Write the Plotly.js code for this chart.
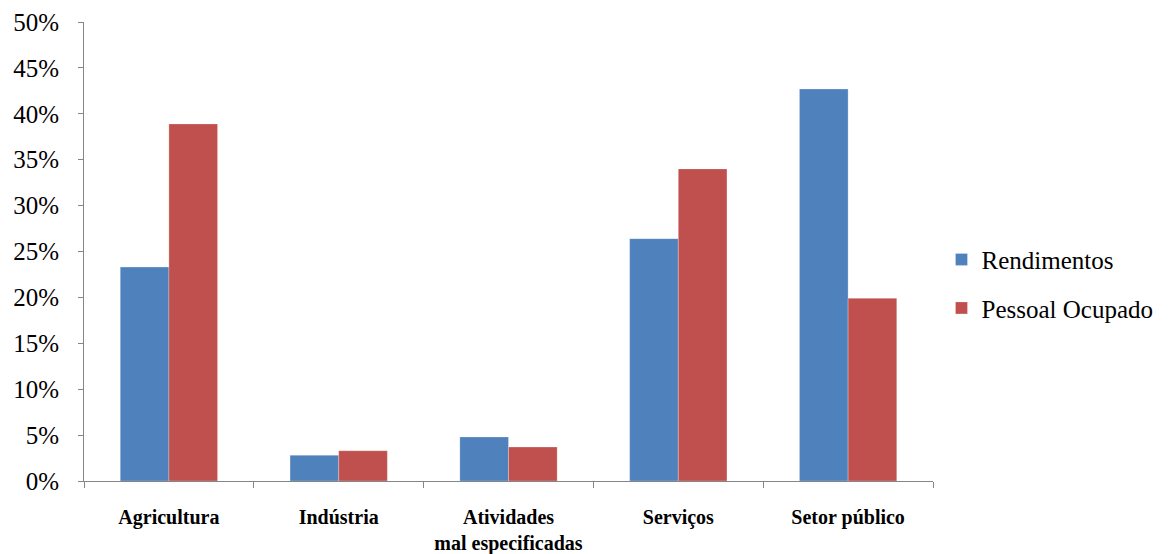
<!DOCTYPE html>
<html>
<head>
<meta charset="utf-8">
<script src="https://cdn.plot.ly/plotly-3.0.1.min.js"></script>
<style>html,body{margin:0;padding:0;background:#fff;}#chart{width:1175px;height:554px;}</style>
</head>
<body>
<div id="chart"></div>
<script>
const categories = ["Agricultura", "Indústria", "Atividades<br>mal especificadas", "Serviços", "Setor público"];
const rendimentos = [0.233, 0.028, 0.048, 0.264, 0.427];
const pessoalOcupado = [0.389, 0.033, 0.037, 0.340, 0.199];
const yTickVals = [0, 0.05, 0.10, 0.15, 0.20, 0.25, 0.30, 0.35, 0.40, 0.45, 0.50];
const yTickText = ["0%", "5%", "10%", "15%", "20%", "25%", "30%", "35%", "40%", "45%", "50%"];

const serif = "Liberation Serif, Times New Roman, serif";

const traces = [
  {type: "bar", name: "Rendimentos", x: categories, y: rendimentos, legendgroup: "a",
   marker: {color: "#4F81BD", line: {color: "rgba(255,255,255,0.5)", width: 0.5}}, hoverinfo: "skip"},
  {type: "bar", name: "Pessoal Ocupado", x: categories, y: pessoalOcupado, legendgroup: "b",
   marker: {color: "#C0504D", line: {color: "rgba(255,255,255,0.5)", width: 0.5}}, hoverinfo: "skip"}
];

const layout = {
  width: 1175, height: 554,
  margin: {l: 84, r: 242, t: 22, b: 73},
  paper_bgcolor: "#fff", plot_bgcolor: "#fff",
  barmode: "group", bargap: 0.427, bargroupgap: 0,
  font: {family: serif, color: "#000"},
  showlegend: true,
  legend: {x: 1.01, xanchor: "left", y: 0.43, yanchor: "middle",
           traceorder: "grouped", tracegroupgap: 13,
           font: {family: serif, size: 25, color: "#000"}},
  xaxis: {
    type: "category", showgrid: false, zeroline: false,
    showline: true, linecolor: "#868686", linewidth: 1,
    ticks: "outside", tickson: "boundaries", ticklen: 6, tickcolor: "#868686",
    ticklabelstandoff: 18,
    tickfont: {family: serif, size: 20, weight: "bold", color: "#000"},
    fixedrange: true
  },
  yaxis: {
    range: [0, 0.5], showgrid: false, zeroline: false,
    showline: true, linecolor: "#868686", linewidth: 1,
    ticks: "outside", ticklen: 5, tickcolor: "#868686",
    tickvals: yTickVals, ticktext: yTickText,
    ticklabelstandoff: 14,
    tickfont: {family: serif, size: 25, color: "#000"},
    fixedrange: true
  }
};

Plotly.newPlot("chart", traces, layout, {displayModeBar: false, staticPlot: true});
</script>
</body>
</html>
